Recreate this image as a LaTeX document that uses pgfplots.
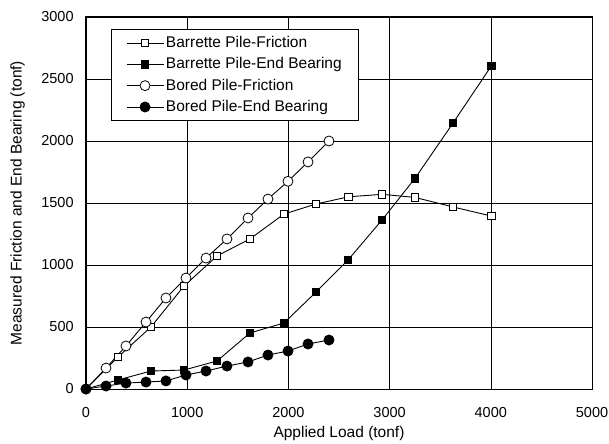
\documentclass[border=0pt]{standalone}
\usepackage{fontspec}
\setmainfont{Liberation Sans}
\usepackage{pgfplots}
\pgfplotsset{compat=1.18}
\begin{document}
\fontsize{15.5bp}{18bp}\selectfont
\begin{tikzpicture}
\begin{axis}[
  name=main,
  scale only axis,
  width=506bp, height=372bp,
  xmin=0, xmax=5000, ymin=0, ymax=3000,
  xtick={0,1000,...,5000}, ytick={0,500,...,3000},
  grid=major,
  major grid style={black, line width=0.6bp},
  axis line style={black, line width=1bp},
  tick style={draw=none},
  /pgf/number format/assume math mode=true,
  /pgf/number format/set thousands separator={},
  ticklabel style={font=\fontsize{14.5bp}{17bp}\selectfont},
  xticklabel style={yshift=-13bp},
  yticklabel style={xshift=-7bp},
  label style={font=\fontsize{15.5bp}{18bp}\selectfont},
  xlabel={Applied Load (tonf)},
  ylabel={Measured Friction and End Bearing (tonf)},
  xlabel style={yshift=2bp},
  ylabel style={yshift=6bp},
  legend style={at={(rel axis cs:0.049,0.968)}, anchor=north west,
    draw=black, line width=0.6bp, font=\fontsize{15.5bp}{18bp}\selectfont,
    row sep=3.8bp, inner xsep=15bp, inner ysep=5bp},
  legend cell align=left,
  legend image code/.code={
    \draw[line width=0.9bp] (0bp,0bp) -- (37bp,0bp);
    \draw[#1, line width=0.9bp] plot coordinates {(18.5bp,0bp)};},
  every axis plot/.append style={black, line width=0.9bp},
]
\addplot[mark=square*, mark options={fill=white, line width=0.8bp}, mark size=3.8bp] coordinates {
(0,0) (316,258) (642,500) (968,830) (1295,1073) (1620,1210) (1956,1411)
(2273,1492) (2595,1550) (2925,1570) (3251,1545) (3627,1468) (4005,1395)};
\addlegendentry{Barrette Pile-Friction}
\addplot[mark=square*, mark options={fill=black}, mark size=3.8bp] coordinates {
(0,0) (316,73) (642,145) (968,153) (1295,226) (1620,452) (1956,532)
(2273,782) (2589,1040) (2925,1363) (3251,1699) (3627,2145) (4005,2605)};
\addlegendentry{Barrette Pile-End Bearing}
\addplot[mark=*, mark options={fill=white, line width=0.8bp}, mark size=5bp] coordinates {
(0,0) (198,169) (395,347) (593,540) (790,734) (988,895) (1186,1056)
(1393,1210) (1601,1379) (1798,1532) (1996,1675) (2194,1831) (2401,2000)};
\addlegendentry{Bored Pile-Friction}
\addplot[mark=*, mark options={fill=black}, mark size=5bp] coordinates {
(0,0) (198,24) (395,48) (593,56) (790,65) (988,113) (1186,145)
(1393,185) (1601,218) (1798,274) (1996,306) (2194,363) (2401,395)};
\addlegendentry{Bored Pile-End Bearing}
\end{axis}
\pgfresetboundingbox
\path (main.south west) ++(-86bp,-55bp) rectangle ++(609bp,444bp);
\end{tikzpicture}
\end{document}
